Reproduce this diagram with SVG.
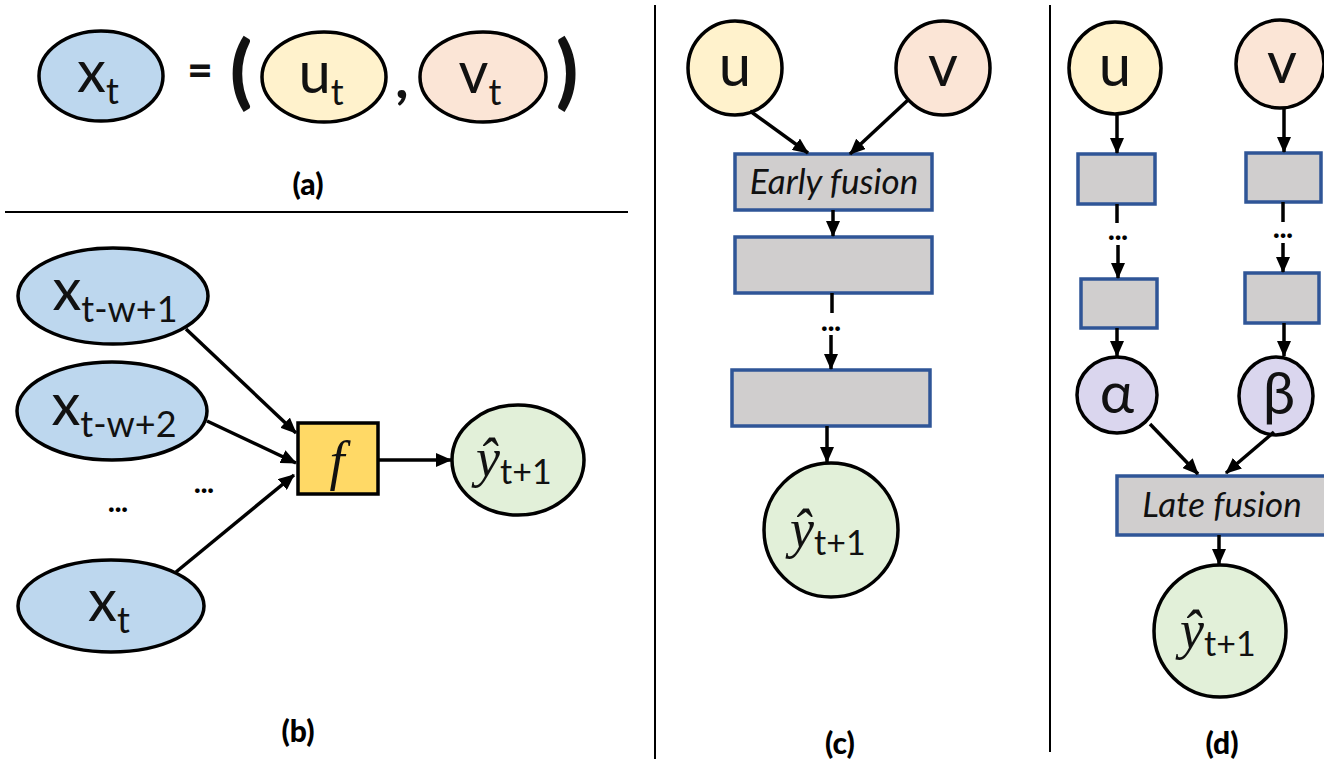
<svg xmlns="http://www.w3.org/2000/svg" width="1324" height="759" viewBox="0 0 1324 759">
  <defs>
    <marker id="arrow" viewBox="0 0 16 14" refX="15" refY="7" markerWidth="16" markerHeight="14" markerUnits="userSpaceOnUse" orient="auto">
      <path d="M0,0 L16,7 L0,14 Z" fill="#000"/>
    </marker>
    <style>
      .node { stroke: #000; stroke-width: 3.5; }
      .blue { fill: #BDD7EE; }
      .yellow { fill: #FFF2CC; }
      .pink { fill: #FBE5D6; }
      .green { fill: #E2F0D9; }
      .purple { fill: #DAD6EE; }
      .layer { fill: #D0CECE; stroke: #2F5597; stroke-width: 3.5; }
      .func { fill: #FFD966; stroke: #000; stroke-width: 3.5; }
      .lbl { font-family: Lato, "Liberation Sans", sans-serif; fill: #111; }
      .big { font-size: 58px; }
      .sub { font-size: 36px; }
      .caption { font-family: Lato, "Liberation Sans", sans-serif; font-size: 30px; font-weight: 900; fill: #000; text-anchor: middle; }
      .fusion { font-family: Lato, "Liberation Sans", sans-serif; font-size: 35px; font-style: italic; fill: #111; text-anchor: middle; }
      .hat { font-family: "Liberation Serif", "DejaVu Serif", serif; font-style: italic; font-size: 54px; fill: #111; }
      .dots { font-family: Lato, "Liberation Sans", sans-serif; font-size: 28px; font-weight: 900; fill: #000; text-anchor: middle; }
      .edge { stroke: #000; stroke-width: 3.5; fill: none; }
      .rule { stroke: #000; stroke-width: 2; }
    </style>
  </defs>

  <rect width="1324" height="759" fill="#fff"/>

  <!-- panel separators -->
  <g id="separators">
    <line class="rule" x1="5" y1="212" x2="628" y2="212"/>
    <line class="rule" x1="655" y1="5" x2="655" y2="759"/>
    <line class="rule" x1="1050" y1="5" x2="1050" y2="752"/>
  </g>

  <!-- (a) x_t = (u_t, v_t) -->
  <g id="a-xt">
    <ellipse class="node blue" cx="101" cy="76" rx="62" ry="45"/>
    <text class="lbl big" x="98" y="92" text-anchor="middle">x<tspan class="sub" dy="12">t</tspan></text>
  </g>
  <g id="a-eq">
    <text class="lbl" x="200" y="86" font-size="44" font-weight="900" text-anchor="middle">=</text>
    <text class="lbl" x="241" y="99" font-size="80" font-weight="900" text-anchor="middle">(</text>
    <text class="lbl" x="402" y="98" font-size="54" font-weight="900" text-anchor="middle">,</text>
    <text class="lbl" x="567" y="99" font-size="80" font-weight="900" text-anchor="middle">)</text>
  </g>
  <g id="a-ut">
    <ellipse class="node yellow" cx="324" cy="77" rx="62" ry="45"/>
    <text class="lbl big" x="321" y="93" text-anchor="middle">u<tspan class="sub" dy="12">t</tspan></text>
  </g>
  <g id="a-vt">
    <ellipse class="node pink" cx="483" cy="77" rx="63" ry="45"/>
    <text class="lbl big" x="480" y="93" text-anchor="middle">v<tspan class="sub" dy="12">t</tspan></text>
  </g>
  <text class="caption" x="308" y="195">(a)</text>

  <!-- (b) windowed forecaster -->
  <g id="b-x1">
    <ellipse class="node blue" cx="113" cy="296" rx="95" ry="48"/>
    <text class="lbl big" x="115" y="310" text-anchor="middle">x<tspan class="sub" dy="12">t-w+1</tspan></text>
  </g>
  <g id="b-x2">
    <ellipse class="node blue" cx="112" cy="411" rx="95" ry="49"/>
    <text class="lbl big" x="114" y="425" text-anchor="middle">x<tspan class="sub" dy="12">t-w+2</tspan></text>
  </g>
  <g id="b-xt">
    <ellipse class="node blue" cx="111" cy="606" rx="93" ry="46"/>
    <text class="lbl big" x="109" y="621" text-anchor="middle">x<tspan class="sub" dy="12">t</tspan></text>
  </g>
  <text class="dots" x="118" y="512">...</text>
  <text class="dots" x="204" y="493">...</text>
  <g id="b-f">
    <rect class="func" x="298" y="423" width="80" height="71"/>
    <text class="hat" x="337" y="479" text-anchor="middle" font-size="52">f</text>
  </g>
  <g id="b-y">
    <ellipse class="node green" cx="518" cy="460" rx="66" ry="55"/>
    <text class="hat" x="476" y="476">ŷ<tspan class="lbl" font-style="normal" font-size="34" dy="8">t+1</tspan></text>
  </g>
  <text class="caption" x="298" y="742">(b)</text>

  <!-- (c) early fusion -->
  <g id="c-u">
    <circle class="node yellow" cx="735" cy="68" r="47"/>
    <text class="lbl big" x="735" y="86" text-anchor="middle">u</text>
  </g>
  <g id="c-v">
    <circle class="node pink" cx="943" cy="68" r="47"/>
    <text class="lbl big" x="943" y="86" text-anchor="middle">v</text>
  </g>
  <g id="c-early">
    <rect class="layer" x="735" y="154" width="197" height="56"/>
    <text class="fusion" x="834" y="194">Early fusion</text>
  </g>
  <g id="c-layer2">
    <rect class="layer" x="735" y="237" width="197" height="56"/>
  </g>
  <g id="c-layer3">
    <rect class="layer" x="732" y="370" width="198" height="56"/>
  </g>
  <text class="dots" x="831" y="331">...</text>
  <g id="c-y">
    <circle class="node green" cx="831" cy="530" r="67"/>
    <text class="hat" x="790" y="547">ŷ<tspan class="lbl" font-style="normal" font-size="34" dy="8">t+1</tspan></text>
  </g>
  <text class="caption" x="840" y="754">(c)</text>

  <!-- (d) late fusion -->
  <g id="d-u">
    <circle class="node yellow" cx="1115" cy="68" r="46"/>
    <text class="lbl big" x="1115" y="86" text-anchor="middle">u</text>
  </g>
  <g id="d-v">
    <circle class="node pink" cx="1280" cy="64" r="44"/>
    <text class="lbl big" x="1282" y="83" text-anchor="middle">v</text>
  </g>
  <g id="d-u1"><rect class="layer" x="1078" y="154" width="77" height="50"/></g>
  <g id="d-v1"><rect class="layer" x="1246" y="153" width="75" height="49"/></g>
  <g id="d-u2"><rect class="layer" x="1081" y="279" width="76" height="49"/></g>
  <g id="d-v2"><rect class="layer" x="1245" y="273" width="74" height="50"/></g>
  <text class="dots" x="1118" y="240">...</text>
  <text class="dots" x="1283" y="238">...</text>
  <g id="d-alpha">
    <ellipse class="node purple" cx="1117" cy="395" rx="40" ry="38"/>
    <text class="lbl big" x="1117" y="413" text-anchor="middle">α</text>
  </g>
  <g id="d-beta">
    <ellipse class="node purple" cx="1276" cy="396" rx="37" ry="39"/>
    <text class="lbl big" x="1279" y="414" text-anchor="middle">β</text>
  </g>
  <g id="d-late">
    <rect class="layer" x="1117" y="476" width="210" height="59"/>
    <text class="fusion" x="1222" y="517">Late fusion</text>
  </g>
  <g id="d-y">
    <circle class="node green" cx="1220" cy="631" r="66"/>
    <text class="hat" x="1180" y="648">ŷ<tspan class="lbl" font-style="normal" font-size="34" dy="8">t+1</tspan></text>
  </g>
  <text class="caption" x="1222" y="754">(d)</text>

  <!-- connectors -->
  <g id="connectors">
    <line class="edge" x1="186" y1="329" x2="296" y2="433" marker-end="url(#arrow)"/>
    <line class="edge" x1="207" y1="421" x2="296" y2="463" marker-end="url(#arrow)"/>
    <line class="edge" x1="176" y1="572" x2="294" y2="475" marker-end="url(#arrow)"/>
    <line class="edge" x1="378" y1="460" x2="451" y2="460" marker-end="url(#arrow)"/>

    <line class="edge" x1="750" y1="111" x2="808" y2="153" marker-end="url(#arrow)"/>
    <line class="edge" x1="908" y1="100" x2="850" y2="154" marker-end="url(#arrow)"/>
    <line class="edge" x1="833" y1="210" x2="833" y2="236" marker-end="url(#arrow)"/>
    <line class="edge" x1="832" y1="293" x2="832" y2="313"/>
    <line class="edge" x1="831" y1="335" x2="831" y2="369" marker-end="url(#arrow)"/>
    <line class="edge" x1="827" y1="426" x2="827" y2="462" marker-end="url(#arrow)"/>

    <line class="edge" x1="1117" y1="114" x2="1117" y2="153" marker-end="url(#arrow)"/>
    <line class="edge" x1="1284" y1="108" x2="1284" y2="152" marker-end="url(#arrow)"/>
    <line class="edge" x1="1117" y1="204" x2="1117" y2="223"/>
    <line class="edge" x1="1283" y1="202" x2="1283" y2="222"/>
    <line class="edge" x1="1118" y1="245" x2="1118" y2="278" marker-end="url(#arrow)"/>
    <line class="edge" x1="1283" y1="243" x2="1283" y2="272" marker-end="url(#arrow)"/>
    <line class="edge" x1="1117" y1="328" x2="1117" y2="356" marker-end="url(#arrow)"/>
    <line class="edge" x1="1284" y1="323" x2="1284" y2="356" marker-end="url(#arrow)"/>
    <line class="edge" x1="1150" y1="424" x2="1198" y2="474" marker-end="url(#arrow)"/>
    <line class="edge" x1="1274" y1="432" x2="1226" y2="473" marker-end="url(#arrow)"/>
    <line class="edge" x1="1219" y1="535" x2="1219" y2="564" marker-end="url(#arrow)"/>
  </g>
</svg>
